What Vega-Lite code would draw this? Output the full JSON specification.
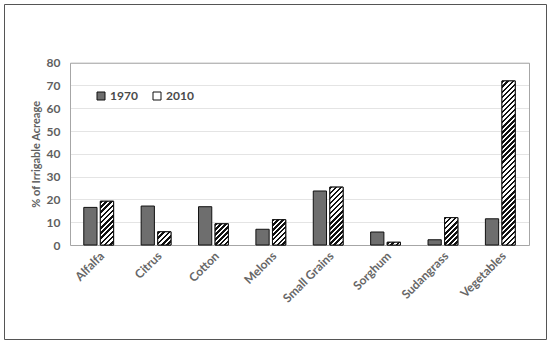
{
"$schema": "https://vega.github.io/schema/vega-lite/v6.json",
"width": 542, "height": 335,
"autosize": {"type": "none"},
"padding": {"left": 4, "top": 4, "right": 4, "bottom": 4},
"background": "white",
"config": {"view": {"stroke": "#555555", "strokeWidth": 1}, "font": "Lato"},
"data": {"values": [
{"crop": "Alfalfa", "year": "1970", "value": 16.5},
{"crop": "Alfalfa", "year": "2010", "value": 19.2},
{"crop": "Citrus", "year": "1970", "value": 17.1},
{"crop": "Citrus", "year": "2010", "value": 5.8},
{"crop": "Cotton", "year": "1970", "value": 16.8},
{"crop": "Cotton", "year": "2010", "value": 9.3},
{"crop": "Melons", "year": "1970", "value": 6.9},
{"crop": "Melons", "year": "2010", "value": 11.1},
{"crop": "Small Grains", "year": "1970", "value": 23.7},
{"crop": "Small Grains", "year": "2010", "value": 25.4},
{"crop": "Sorghum", "year": "1970", "value": 5.7},
{"crop": "Sorghum", "year": "2010", "value": 1.2},
{"crop": "Sudangrass", "year": "1970", "value": 2.3},
{"crop": "Sudangrass", "year": "2010", "value": 12.0},
{"crop": "Vegetables", "year": "1970", "value": 11.5},
{"crop": "Vegetables", "year": "2010", "value": 72.0}
]},
"resolve": {"axis": {"x": "independent", "y": "independent"}},
"layer": [
{
"mark": {"type": "bar", "stroke": "#111111", "strokeWidth": 1},
"encoding": {
"x": {"field": "crop", "type": "nominal", "sort": ["Alfalfa","Citrus","Cotton","Melons","Small Grains","Sorghum","Sudangrass","Vegetables"],
 "scale": {"domain": ["Alfalfa","Citrus","Cotton","Melons","Small Grains","Sorghum","Sudangrass","Vegetables"], "range": [66, 525], "paddingInner": 0.48, "paddingOuter": 0.24},
 "axis": {"orient": "bottom", "offset": -94, "title": null, "labelAngle": -45, "labelFont": "Lato", "labelFontSize": 12, "labelFontWeight": "bold", "labelColor": "#666666", "ticks": false, "labelPadding": 5, "domainColor": "#a6a6a6", "grid": false}},
"xOffset": {"field": "year", "type": "nominal", "scale": {"domain": ["1970","2010"], "paddingInner": 0.2, "paddingOuter": 0}},
"y": {"field": "value", "type": "quantitative", "scale": {"domain": [0, 80], "range": [241, 58.7], "nice": false},
 "axis": {"orient": "left", "offset": -66, "values": [0,10,20,30,40,50,60,70,80], "grid": true, "gridColor": "#e4e4e4", "ticks": false, "labelPadding": 10, "labelFont": "Lato", "labelFontSize": 12, "labelFontWeight": "bold", "labelColor": "#5f5f5f", "domainColor": "#a6a6a6", "title": "% of Irrigable Acreage", "titleFont": "Lato", "titleFontSize": 11, "titleFontWeight": "bold", "titleColor": "#5f5f5f", "titlePadding": 5}},
"fill": {"field": "year", "type": "nominal",
 "scale": {"domain": ["1970","2010"], "range": ["#6e6e6e", "#ffffff"]},
 "legend": {"title": null, "orient": "none", "legendX": 91, "legendY": 86, "direction": "horizontal", "symbolType": "square", "symbolSize": 64, "symbolStrokeColor": "#111", "symbolStrokeWidth": 1, "labelFont": "Lato", "labelFontSize": 12, "labelFontWeight": "bold", "labelColor": "#4a4a4a", "columnPadding": 13, "labelOffset": 3, "padding": 0,
  "encode": {"symbols": {"update": {"stroke": {"value": "#111111"}, "strokeWidth": {"value": 1}, "fill": [{"test": "datum.value === '2010'", "value": {"gradient": "linear", "x1": 0, "y1": 0, "x2": 1, "y2": 1, "stops": [{"offset": 0, "color": "#111"},{"offset": 0.35, "color": "#111"},{"offset": 0.35, "color": "#fff"},{"offset": 0.65, "color": "#fff"},{"offset": 0.65, "color": "#111"},{"offset": 1, "color": "#111"}]}}, {"value": "#6e6e6e"}]}}}}}
}
},
{
"transform": [{"filter": "datum.year === '2010'"}],
"mark": {"type": "bar", "stroke": "#111111", "strokeWidth": 1},
"encoding": {
"x": {"field": "crop", "type": "nominal", "sort": ["Alfalfa","Citrus","Cotton","Melons","Small Grains","Sorghum","Sudangrass","Vegetables"],
 "scale": {"domain": ["Alfalfa","Citrus","Cotton","Melons","Small Grains","Sorghum","Sudangrass","Vegetables"], "range": [66, 525], "paddingInner": 0.48, "paddingOuter": 0.24},
 "axis": {"orient": "top", "offset": -58.7, "title": null, "labels": false, "ticks": false, "grid": false, "domainColor": "#a6a6a6"}},
"xOffset": {"field": "year", "type": "nominal", "scale": {"domain": ["1970","2010"], "paddingInner": 0.2, "paddingOuter": 0}},
"y": {"field": "value", "type": "quantitative", "scale": {"domain": [0, 80], "range": [241, 58.7], "nice": false},
 "axis": {"orient": "right", "offset": -17, "title": null, "labels": false, "ticks": false, "grid": false, "domainColor": "#a6a6a6"}},
"fill": {"condition": [
{"test": "datum.crop === 'Alfalfa'", "value": {"gradient": "linear", "x1": 0, "y1": 0, "x2": 0.3617, "y2": 1.1935, "stops": [
{"offset":0,"color":"#111"},
{"offset":0.0455,"color":"#111"},{"offset":0.0455,"color":"#fff"},
{"offset":0.0909,"color":"#fff"},{"offset":0.0909,"color":"#111"},
{"offset":0.1364,"color":"#111"},{"offset":0.1364,"color":"#fff"},
{"offset":0.1818,"color":"#fff"},{"offset":0.1818,"color":"#111"},
{"offset":0.2273,"color":"#111"},{"offset":0.2273,"color":"#fff"},
{"offset":0.2727,"color":"#fff"},{"offset":0.2727,"color":"#111"},
{"offset":0.3182,"color":"#111"},{"offset":0.3182,"color":"#fff"},
{"offset":0.3636,"color":"#fff"},{"offset":0.3636,"color":"#111"},
{"offset":0.4091,"color":"#111"},{"offset":0.4091,"color":"#fff"},
{"offset":0.4545,"color":"#fff"},{"offset":0.4545,"color":"#111"},
{"offset":0.5,"color":"#111"},{"offset":0.5,"color":"#fff"},
{"offset":0.5455,"color":"#fff"},{"offset":0.5455,"color":"#111"},
{"offset":0.5909,"color":"#111"},{"offset":0.5909,"color":"#fff"},
{"offset":0.6364,"color":"#fff"},{"offset":0.6364,"color":"#111"},
{"offset":0.6818,"color":"#111"},{"offset":0.6818,"color":"#fff"},
{"offset":0.7273,"color":"#fff"},{"offset":0.7273,"color":"#111"},
{"offset":0.7727,"color":"#111"},{"offset":0.7727,"color":"#fff"},
{"offset":0.8182,"color":"#fff"},{"offset":0.8182,"color":"#111"},
{"offset":0.8636,"color":"#111"},{"offset":0.8636,"color":"#fff"},
{"offset":0.9091,"color":"#fff"},{"offset":0.9091,"color":"#111"},
{"offset":0.9545,"color":"#111"},{"offset":0.9545,"color":"#fff"},
{"offset":1,"color":"#fff"}]}},
{"test": "datum.crop === 'Citrus'", "value": {"gradient": "linear", "x1": 0, "y1": 0, "x2": 1.0015, "y2": 0.9985, "stops": [
{"offset":0,"color":"#111"},
{"offset":0.1,"color":"#111"},{"offset":0.1,"color":"#fff"},
{"offset":0.2,"color":"#fff"},{"offset":0.2,"color":"#111"},
{"offset":0.3,"color":"#111"},{"offset":0.3,"color":"#fff"},
{"offset":0.4,"color":"#fff"},{"offset":0.4,"color":"#111"},
{"offset":0.5,"color":"#111"},{"offset":0.5,"color":"#fff"},
{"offset":0.6,"color":"#fff"},{"offset":0.6,"color":"#111"},
{"offset":0.7,"color":"#111"},{"offset":0.7,"color":"#fff"},
{"offset":0.8,"color":"#fff"},{"offset":0.8,"color":"#111"},
{"offset":0.9,"color":"#111"},{"offset":0.9,"color":"#fff"},
{"offset":1,"color":"#fff"}]}},
{"test": "datum.crop === 'Cotton'", "value": {"gradient": "linear", "x1": 0, "y1": 0, "x2": 0.7311, "y2": 1.1684, "stops": [
{"offset":0,"color":"#111"},
{"offset":0.0714,"color":"#111"},{"offset":0.0714,"color":"#fff"},
{"offset":0.1429,"color":"#fff"},{"offset":0.1429,"color":"#111"},
{"offset":0.2143,"color":"#111"},{"offset":0.2143,"color":"#fff"},
{"offset":0.2857,"color":"#fff"},{"offset":0.2857,"color":"#111"},
{"offset":0.3571,"color":"#111"},{"offset":0.3571,"color":"#fff"},
{"offset":0.4286,"color":"#fff"},{"offset":0.4286,"color":"#111"},
{"offset":0.5,"color":"#111"},{"offset":0.5,"color":"#fff"},
{"offset":0.5714,"color":"#fff"},{"offset":0.5714,"color":"#111"},
{"offset":0.6429,"color":"#111"},{"offset":0.6429,"color":"#fff"},
{"offset":0.7143,"color":"#fff"},{"offset":0.7143,"color":"#111"},
{"offset":0.7857,"color":"#111"},{"offset":0.7857,"color":"#fff"},
{"offset":0.8571,"color":"#fff"},{"offset":0.8571,"color":"#111"},
{"offset":0.9286,"color":"#111"},{"offset":0.9286,"color":"#fff"},
{"offset":1,"color":"#fff"}]}},
{"test": "datum.crop === 'Melons'", "value": {"gradient": "linear", "x1": 0, "y1": 0, "x2": 0.6269, "y2": 1.1957, "stops": [
{"offset":0,"color":"#111"},
{"offset":0.0625,"color":"#111"},{"offset":0.0625,"color":"#fff"},
{"offset":0.125,"color":"#fff"},{"offset":0.125,"color":"#111"},
{"offset":0.1875,"color":"#111"},{"offset":0.1875,"color":"#fff"},
{"offset":0.25,"color":"#fff"},{"offset":0.25,"color":"#111"},
{"offset":0.3125,"color":"#111"},{"offset":0.3125,"color":"#fff"},
{"offset":0.375,"color":"#fff"},{"offset":0.375,"color":"#111"},
{"offset":0.4375,"color":"#111"},{"offset":0.4375,"color":"#fff"},
{"offset":0.5,"color":"#fff"},{"offset":0.5,"color":"#111"},
{"offset":0.5625,"color":"#111"},{"offset":0.5625,"color":"#fff"},
{"offset":0.625,"color":"#fff"},{"offset":0.625,"color":"#111"},
{"offset":0.6875,"color":"#111"},{"offset":0.6875,"color":"#fff"},
{"offset":0.75,"color":"#fff"},{"offset":0.75,"color":"#111"},
{"offset":0.8125,"color":"#111"},{"offset":0.8125,"color":"#fff"},
{"offset":0.875,"color":"#fff"},{"offset":0.875,"color":"#111"},
{"offset":0.9375,"color":"#111"},{"offset":0.9375,"color":"#fff"},
{"offset":1,"color":"#fff"}]}},
{"test": "datum.crop === 'Small Grains'", "value": {"gradient": "linear", "x1": 0, "y1": 0, "x2": 0.2675, "y2": 1.1678, "stops": [
{"offset":0,"color":"#111"},
{"offset":0.0357,"color":"#111"},{"offset":0.0357,"color":"#fff"},
{"offset":0.0714,"color":"#fff"},{"offset":0.0714,"color":"#111"},
{"offset":0.1071,"color":"#111"},{"offset":0.1071,"color":"#fff"},
{"offset":0.1429,"color":"#fff"},{"offset":0.1429,"color":"#111"},
{"offset":0.1786,"color":"#111"},{"offset":0.1786,"color":"#fff"},
{"offset":0.2143,"color":"#fff"},{"offset":0.2143,"color":"#111"},
{"offset":0.25,"color":"#111"},{"offset":0.25,"color":"#fff"},
{"offset":0.2857,"color":"#fff"},{"offset":0.2857,"color":"#111"},
{"offset":0.3214,"color":"#111"},{"offset":0.3214,"color":"#fff"},
{"offset":0.3571,"color":"#fff"},{"offset":0.3571,"color":"#111"},
{"offset":0.3929,"color":"#111"},{"offset":0.3929,"color":"#fff"},
{"offset":0.4286,"color":"#fff"},{"offset":0.4286,"color":"#111"},
{"offset":0.4643,"color":"#111"},{"offset":0.4643,"color":"#fff"},
{"offset":0.5,"color":"#fff"},{"offset":0.5,"color":"#111"},
{"offset":0.5357,"color":"#111"},{"offset":0.5357,"color":"#fff"},
{"offset":0.5714,"color":"#fff"},{"offset":0.5714,"color":"#111"},
{"offset":0.6071,"color":"#111"},{"offset":0.6071,"color":"#fff"},
{"offset":0.6429,"color":"#fff"},{"offset":0.6429,"color":"#111"},
{"offset":0.6786,"color":"#111"},{"offset":0.6786,"color":"#fff"},
{"offset":0.7143,"color":"#fff"},{"offset":0.7143,"color":"#111"},
{"offset":0.75,"color":"#111"},{"offset":0.75,"color":"#fff"},
{"offset":0.7857,"color":"#fff"},{"offset":0.7857,"color":"#111"},
{"offset":0.8214,"color":"#111"},{"offset":0.8214,"color":"#fff"},
{"offset":0.8571,"color":"#fff"},{"offset":0.8571,"color":"#111"},
{"offset":0.8929,"color":"#111"},{"offset":0.8929,"color":"#fff"},
{"offset":0.9286,"color":"#fff"},{"offset":0.9286,"color":"#111"},
{"offset":0.9643,"color":"#111"},{"offset":0.9643,"color":"#fff"},
{"offset":1,"color":"#fff"}]}},
{"test": "datum.crop === 'Sorghum'", "value": {"gradient": "linear", "x1": 0, "y1": 0, "x2": 1.157, "y2": 0.2382, "stops": [
{"offset":0,"color":"#111"},
{"offset":0.1667,"color":"#111"},{"offset":0.1667,"color":"#fff"},
{"offset":0.3333,"color":"#fff"},{"offset":0.3333,"color":"#111"},
{"offset":0.5,"color":"#111"},{"offset":0.5,"color":"#fff"},
{"offset":0.6667,"color":"#fff"},{"offset":0.6667,"color":"#111"},
{"offset":0.8333,"color":"#111"},{"offset":0.8333,"color":"#fff"},
{"offset":1,"color":"#fff"}]}},
{"test": "datum.crop === 'Sudangrass'", "value": {"gradient": "linear", "x1": 0, "y1": 0, "x2": 0.5829, "y2": 1.2023, "stops": [
{"offset":0,"color":"#111"},
{"offset":0.0625,"color":"#111"},{"offset":0.0625,"color":"#fff"},
{"offset":0.125,"color":"#fff"},{"offset":0.125,"color":"#111"},
{"offset":0.1875,"color":"#111"},{"offset":0.1875,"color":"#fff"},
{"offset":0.25,"color":"#fff"},{"offset":0.25,"color":"#111"},
{"offset":0.3125,"color":"#111"},{"offset":0.3125,"color":"#fff"},
{"offset":0.375,"color":"#fff"},{"offset":0.375,"color":"#111"},
{"offset":0.4375,"color":"#111"},{"offset":0.4375,"color":"#fff"},
{"offset":0.5,"color":"#fff"},{"offset":0.5,"color":"#111"},
{"offset":0.5625,"color":"#111"},{"offset":0.5625,"color":"#fff"},
{"offset":0.625,"color":"#fff"},{"offset":0.625,"color":"#111"},
{"offset":0.6875,"color":"#111"},{"offset":0.6875,"color":"#fff"},
{"offset":0.75,"color":"#fff"},{"offset":0.75,"color":"#111"},
{"offset":0.8125,"color":"#111"},{"offset":0.8125,"color":"#fff"},
{"offset":0.875,"color":"#fff"},{"offset":0.875,"color":"#111"},
{"offset":0.9375,"color":"#111"},{"offset":0.9375,"color":"#fff"},
{"offset":1,"color":"#fff"}]}},
{"test": "datum.crop === 'Vegetables'", "value": {"gradient": "linear", "x1": 0, "y1": 0, "x2": 0.08678, "y2": 1.07379, "stops": [
{"offset":0,"color":"#111"},
{"offset":0.0143,"color":"#111"},{"offset":0.0143,"color":"#fff"},
{"offset":0.0286,"color":"#fff"},{"offset":0.0286,"color":"#111"},
{"offset":0.0429,"color":"#111"},{"offset":0.0429,"color":"#fff"},
{"offset":0.0571,"color":"#fff"},{"offset":0.0571,"color":"#111"},
{"offset":0.0714,"color":"#111"},{"offset":0.0714,"color":"#fff"},
{"offset":0.0857,"color":"#fff"},{"offset":0.0857,"color":"#111"},
{"offset":0.1,"color":"#111"},{"offset":0.1,"color":"#fff"},
{"offset":0.1143,"color":"#fff"},{"offset":0.1143,"color":"#111"},
{"offset":0.1286,"color":"#111"},{"offset":0.1286,"color":"#fff"},
{"offset":0.1429,"color":"#fff"},{"offset":0.1429,"color":"#111"},
{"offset":0.1571,"color":"#111"},{"offset":0.1571,"color":"#fff"},
{"offset":0.1714,"color":"#fff"},{"offset":0.1714,"color":"#111"},
{"offset":0.1857,"color":"#111"},{"offset":0.1857,"color":"#fff"},
{"offset":0.2,"color":"#fff"},{"offset":0.2,"color":"#111"},
{"offset":0.2143,"color":"#111"},{"offset":0.2143,"color":"#fff"},
{"offset":0.2286,"color":"#fff"},{"offset":0.2286,"color":"#111"},
{"offset":0.2429,"color":"#111"},{"offset":0.2429,"color":"#fff"},
{"offset":0.2571,"color":"#fff"},{"offset":0.2571,"color":"#111"},
{"offset":0.2714,"color":"#111"},{"offset":0.2714,"color":"#fff"},
{"offset":0.2857,"color":"#fff"},{"offset":0.2857,"color":"#111"},
{"offset":0.3,"color":"#111"},{"offset":0.3,"color":"#fff"},
{"offset":0.3143,"color":"#fff"},{"offset":0.3143,"color":"#111"},
{"offset":0.3286,"color":"#111"},{"offset":0.3286,"color":"#fff"},
{"offset":0.3429,"color":"#fff"},{"offset":0.3429,"color":"#111"},
{"offset":0.3571,"color":"#111"},{"offset":0.3571,"color":"#fff"},
{"offset":0.3714,"color":"#fff"},{"offset":0.3714,"color":"#111"},
{"offset":0.3857,"color":"#111"},{"offset":0.3857,"color":"#fff"},
{"offset":0.4,"color":"#fff"},{"offset":0.4,"color":"#111"},
{"offset":0.4143,"color":"#111"},{"offset":0.4143,"color":"#fff"},
{"offset":0.4286,"color":"#fff"},{"offset":0.4286,"color":"#111"},
{"offset":0.4429,"color":"#111"},{"offset":0.4429,"color":"#fff"},
{"offset":0.4571,"color":"#fff"},{"offset":0.4571,"color":"#111"},
{"offset":0.4714,"color":"#111"},{"offset":0.4714,"color":"#fff"},
{"offset":0.4857,"color":"#fff"},{"offset":0.4857,"color":"#111"},
{"offset":0.5,"color":"#111"},{"offset":0.5,"color":"#fff"},
{"offset":0.5143,"color":"#fff"},{"offset":0.5143,"color":"#111"},
{"offset":0.5286,"color":"#111"},{"offset":0.5286,"color":"#fff"},
{"offset":0.5429,"color":"#fff"},{"offset":0.5429,"color":"#111"},
{"offset":0.5571,"color":"#111"},{"offset":0.5571,"color":"#fff"},
{"offset":0.5714,"color":"#fff"},{"offset":0.5714,"color":"#111"},
{"offset":0.5857,"color":"#111"},{"offset":0.5857,"color":"#fff"},
{"offset":0.6,"color":"#fff"},{"offset":0.6,"color":"#111"},
{"offset":0.6143,"color":"#111"},{"offset":0.6143,"color":"#fff"},
{"offset":0.6286,"color":"#fff"},{"offset":0.6286,"color":"#111"},
{"offset":0.6429,"color":"#111"},{"offset":0.6429,"color":"#fff"},
{"offset":0.6571,"color":"#fff"},{"offset":0.6571,"color":"#111"},
{"offset":0.6714,"color":"#111"},{"offset":0.6714,"color":"#fff"},
{"offset":0.6857,"color":"#fff"},{"offset":0.6857,"color":"#111"},
{"offset":0.7,"color":"#111"},{"offset":0.7,"color":"#fff"},
{"offset":0.7143,"color":"#fff"},{"offset":0.7143,"color":"#111"},
{"offset":0.7286,"color":"#111"},{"offset":0.7286,"color":"#fff"},
{"offset":0.7429,"color":"#fff"},{"offset":0.7429,"color":"#111"},
{"offset":0.7571,"color":"#111"},{"offset":0.7571,"color":"#fff"},
{"offset":0.7714,"color":"#fff"},{"offset":0.7714,"color":"#111"},
{"offset":0.7857,"color":"#111"},{"offset":0.7857,"color":"#fff"},
{"offset":0.8,"color":"#fff"},{"offset":0.8,"color":"#111"},
{"offset":0.8143,"color":"#111"},{"offset":0.8143,"color":"#fff"},
{"offset":0.8286,"color":"#fff"},{"offset":0.8286,"color":"#111"},
{"offset":0.8429,"color":"#111"},{"offset":0.8429,"color":"#fff"},
{"offset":0.8571,"color":"#fff"},{"offset":0.8571,"color":"#111"},
{"offset":0.8714,"color":"#111"},{"offset":0.8714,"color":"#fff"},
{"offset":0.8857,"color":"#fff"},{"offset":0.8857,"color":"#111"},
{"offset":0.9,"color":"#111"},{"offset":0.9,"color":"#fff"},
{"offset":0.9143,"color":"#fff"},{"offset":0.9143,"color":"#111"},
{"offset":0.9286,"color":"#111"},{"offset":0.9286,"color":"#fff"},
{"offset":0.9429,"color":"#fff"},{"offset":0.9429,"color":"#111"},
{"offset":0.9571,"color":"#111"},{"offset":0.9571,"color":"#fff"},
{"offset":0.9714,"color":"#fff"},{"offset":0.9714,"color":"#111"},
{"offset":0.9857,"color":"#111"},{"offset":0.9857,"color":"#fff"},
{"offset":1,"color":"#fff"}]}}
], "value": "#ffffff"}
}
}
]
}
